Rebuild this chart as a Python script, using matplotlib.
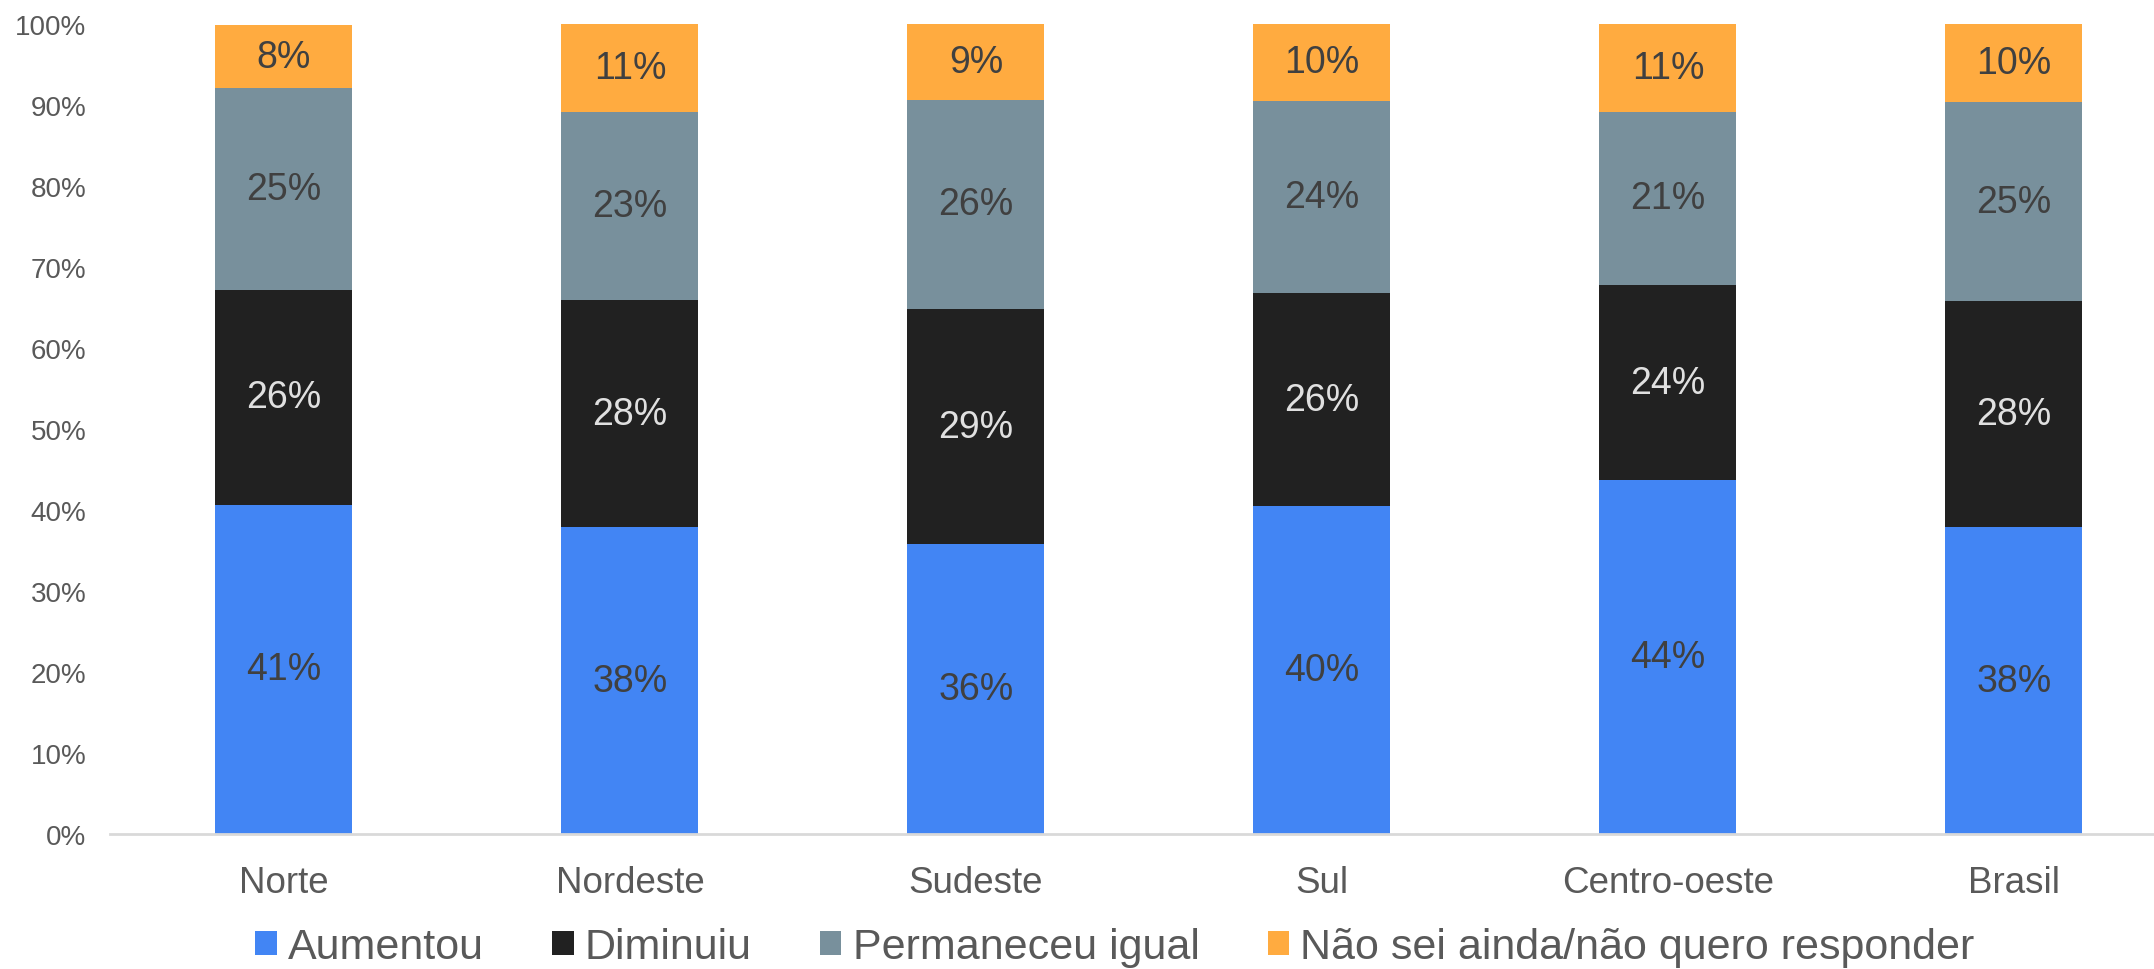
import matplotlib.pyplot as plt
import numpy as np

plt.rcParams['font.family'] = ['Liberation Sans', 'DejaVu Sans']

# Dados (% por região)
regioes = ["Norte", "Nordeste", "Sudeste", "Sul", "Centro-oeste", "Brasil"]
aumentou = [40.7, 37.9, 35.8, 40.5, 43.7, 37.9]
diminuiu = [26.5, 28.0, 29.0, 26.3, 24.1, 27.9]
permaneceu = [24.9, 23.3, 25.9, 23.7, 21.4, 24.6]
nao_sei = [7.8, 10.9, 9.3, 9.6, 10.8, 9.7]

series = [
    ("Aumentou", aumentou, "#4285f4", "#404040"),
    ("Diminuiu", diminuiu, "#212121", "#e0e0e0"),
    ("Permaneceu igual", permaneceu, "#78909c", "#404040"),
    ("Não sei ainda/não quero responder", nao_sei, "#ffab40", "#404040"),
]

fig = plt.figure(figsize=(21.54, 9.70), dpi=100)
ax = fig.add_axes([0.051, 0.139, 0.949, 0.835])

x = np.arange(len(regioes))
base = np.zeros(len(regioes))
for nome, vals, cor, cor_txt in series:
    vals = np.array(vals)
    ax.bar(x, vals, 0.396, bottom=base, color=cor, label=nome)
    for i, v in enumerate(vals):
        ax.text(x[i], base[i] + v / 2, f"{round(v):.0f}%", ha="center", va="center",
                fontsize=27, color=cor_txt)
    base += vals

ax.set_xlim(-0.503, 5.405)
ax.set_ylim(0, 100)
ax.set_yticks(np.arange(0, 101, 10))
ax.set_yticklabels([f"{v}%" for v in range(0, 101, 10)], fontsize=20, color="#595959")
ax.set_xticks(x)
ax.set_xticklabels(regioes, fontsize=26.5, color="#595959")
ax.tick_params(axis="both", length=0)
ax.tick_params(axis="y", pad=17)
ax.tick_params(axis="x", pad=22)

for s in ["top", "right", "left"]:
    ax.spines[s].set_visible(False)
ax.spines["bottom"].set_color("#d9d9d9")
ax.spines["bottom"].set_linewidth(2)

# legenda embaixo
leg = ax.legend(loc="center", bbox_to_anchor=(0.4917, -0.1395), ncol=4, frameon=False,
                fontsize=31, handlelength=0.5, handleheight=0.5, handletextpad=0.26,
                columnspacing=1.58, borderaxespad=0)
for t in leg.get_texts():
    t.set_color("#595959")

plt.savefig("out.png", dpi=100)
